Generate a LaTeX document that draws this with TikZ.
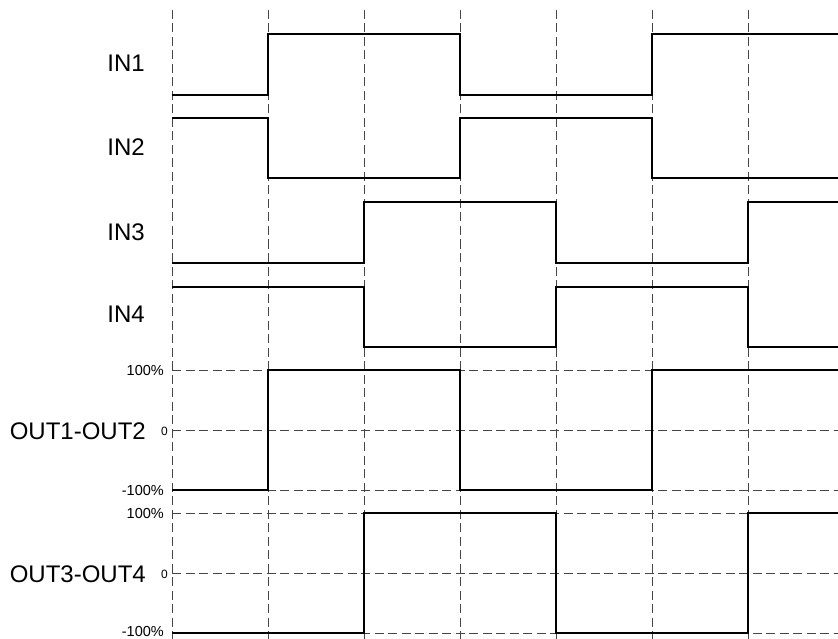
\documentclass[tikz,border=0pt]{standalone}
\usepackage{fontspec}
\setmainfont{Liberation Sans}
\usetikzlibrary{positioning}
\definecolor{guidegray}{RGB}{70,70,70}

\tikzset{
  guide/.style={guidegray, line width=1pt, dash pattern=on 9pt off 4.5pt},
  wave/.style={black, line width=2.5pt},
  sig/.style={anchor=east, inner sep=0pt, font=\fontsize{24}{26}\selectfont},
  lvl/.style={anchor=east, inner sep=0pt, font=\fontsize{14.5}{16}\selectfont},
  zero/.style={anchor=east, inner sep=0pt, font=\fontsize{12}{13}\selectfont},
}

\begin{document}
\begin{tikzpicture}[x=1pt,y=-1pt]
\useasboundingbox (0,0) rectangle (838,639);

% Draw guide lines
\foreach \x in {172,268,...,748} {
    \draw[guide] (\x,10) -- (\x,639);
}
\foreach \y in {370,430,490,513,573,633} {
    \draw[guide] (172,\y) -- (838,\y);
}

% Signal labels
\node[sig] (in1) at (145,63) {IN1};
\node[sig] (in2) at (145,147) {IN2};
\node[sig] (in3) at (145,232) {IN3};
\node[sig] (in4) at (145,314) {IN4};
\node[sig] (out12) at (146,431) {OUT1-OUT2};
\node[sig] (out34) at (146,574) {OUT3-OUT4};

% Level labels
\node[lvl] (hi12) at (164,371) {100\%};
\node[zero] (z12) at (168,431) {0};
\node[lvl] (lo12) at (164,491) {-100\%};
\node[lvl] (hi34) at (164,514) {100\%};
\node[zero] (z34) at (168,574) {0};
\node[lvl] (lo34) at (164,632) {-100\%};

% Draw waveforms
\draw[wave] (172,95) -- (268,95) -- (268,34) -- (460,34) -- (460,95) -- (652,95) -- (652,34) -- (838,34);
\draw[wave] (172,118) -- (268,118) -- (268,178) -- (460,178) -- (460,118) -- (652,118) -- (652,178) -- (838,178);
\draw[wave] (172,263) -- (364,263) -- (364,202) -- (556,202) -- (556,263) -- (748,263) -- (748,202) -- (838,202);
\draw[wave] (172,287) -- (364,287) -- (364,347) -- (556,347) -- (556,287) -- (748,287) -- (748,347) -- (838,347);
\draw[wave] (172,490) -- (268,490) -- (268,370) -- (460,370) -- (460,490) -- (652,490) -- (652,370) -- (838,370);
\draw[wave] (172,633) -- (364,633) -- (364,513) -- (556,513) -- (556,633) -- (748,633) -- (748,513) -- (838,513);
\end{tikzpicture}
\end{document}
